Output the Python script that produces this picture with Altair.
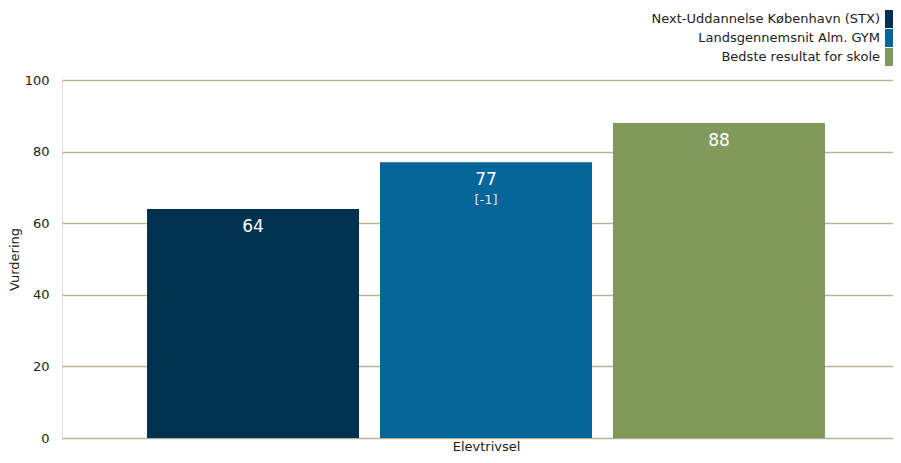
import altair as alt
import pandas as pd

series = ["Next-Uddannelse København (STX)", "Landsgennemsnit Alm. GYM", "Bedste resultat for skole"]
values = [64, 77, 88]
value_labels = ["64", "77", "88"]
delta_labels = ["", "[-1]", ""]
category = "Elevtrivsel"
y_title = "Vurdering"
colors = ["#00324f", "#076699", "#7f9a5a"]
y_ticks = [0, 20, 40, 60, 80, 100]

df = pd.DataFrame({
    "serie": series,
    "vurdering": values,
    "label": value_labels,
    "delta": delta_labels,
})

FONT = "DejaVu Sans"

x = alt.X(
    "serie:N",
    sort=series,
    scale=alt.Scale(paddingInner=0.09, paddingOuter=0.365, range=[0, 848]),
    axis=alt.Axis(
        title=category, labels=False, ticks=False, domain=False, grid=False,
        titleFontSize=13, titleFontWeight="normal", titleColor="#222222",
        titlePadding=2, titleX=424, titleFont=FONT,
    ),
)
y = alt.Y(
    "vurdering:Q",
    scale=alt.Scale(domain=[0, 100], nice=False),
    axis=alt.Axis(
        title=y_title, values=y_ticks, ticks=False, domain=False, grid=True,
        gridColor="#b9b296", gridWidth=1.5, labelFontSize=13, labelColor="#222222",
        labelPadding=13, titleFontSize=13, titleFontWeight="normal", titleColor="#222222",
        titlePadding=3, labelFont=FONT, titleFont=FONT,
    ),
)

color = alt.Color(
    "serie:N",
    scale=alt.Scale(domain=series, range=colors),
    legend=alt.Legend(
        title=None, orient="none", legendX=818, legendY=-70,
        symbolType="M-0.444,-1H0.444V1H-0.444Z", symbolSize=324, symbolStrokeWidth=0,
        symbolOpacity=1, labelAlign="right", labelOffset={"expr": "-18"},
        labelFontSize=13, labelColor="#222222", labelFont=FONT,
        rowPadding=1, labelLimit=0, padding=0,
    ),
)

base = alt.Chart(df)

bars = base.mark_bar(opacity=1).encode(x=x, y=y, color=color)

labels = base.mark_text(
    dy=18, baseline="middle", align="center", color="white", fontSize=17, font=FONT
).encode(x=alt.X("serie:N", sort=series), y="vurdering:Q", text="label:N")

deltas = base.mark_text(
    dy=38, baseline="middle", align="center", color="#dbe6ef", fontSize=13, font=FONT
).encode(x=alt.X("serie:N", sort=series), y="vurdering:Q", text="delta:N")

chart = (
    alt.layer(bars, labels, deltas)
    .properties(
        width=831, height=358,
        autosize=alt.AutoSizeParams(type="none"),
        padding={"left": 54, "top": 72, "right": 0, "bottom": 17},
    )
    .configure_view(stroke=None)
    .configure(font=FONT)
)

chart.save("out.html", embed_options={"renderer": "svg", "actions": False})
